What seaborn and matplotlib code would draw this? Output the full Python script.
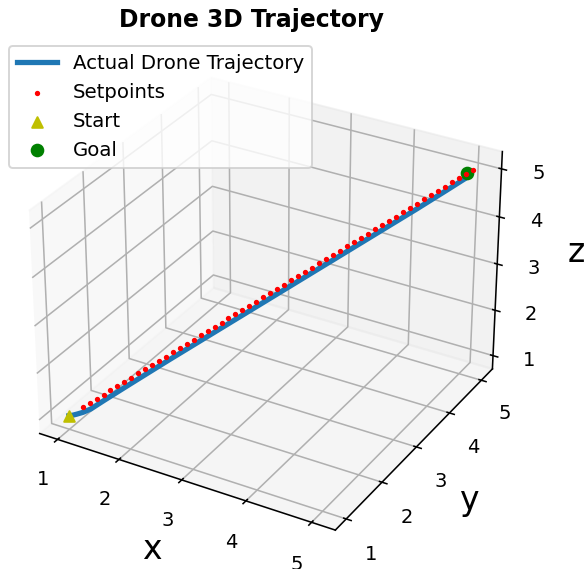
import matplotlib
matplotlib.use("Agg")
import matplotlib.pyplot as plt
import seaborn as sns
import pandas as pd

# Setpoints along the commanded straight path (same value on x, y and z)
setpoint_path = [1.14, 1.21, 1.28, 1.35, 1.42, 1.49, 1.56, 1.63,
                 1.70, 1.77, 1.84, 1.91, 1.98, 2.05, 2.12, 2.19, 2.26, 2.33,
                 2.40, 2.47, 2.54, 2.61, 2.68, 2.75, 2.82, 2.89, 2.96, 3.03,
                 3.10, 3.17, 3.24, 3.31, 3.38, 3.45, 3.52, 3.59, 3.66, 3.73,
                 3.80, 3.87, 3.94, 4.01, 4.08, 4.15, 4.22, 4.29, 4.36, 4.43,
                 4.50, 4.57, 4.64, 4.71, 4.78, 4.85, 4.92, 4.99, 5.06]

# Flown trajectory (lags slightly below the setpoints in altitude)
traj_x = [1.00, 1.04, 1.08, 1.14, 1.22, 1.35, 1.60, 2.00, 2.50, 3.00, 3.50, 4.00, 4.50, 4.80, 5.00]
traj_y = [1.00, 1.04, 1.08, 1.14, 1.22, 1.35, 1.60, 2.00, 2.50, 3.00, 3.50, 4.00, 4.50, 4.80, 5.00]
traj_z = [1.00, 1.00, 1.01, 1.03, 1.08, 1.22, 1.48, 1.89, 2.39, 2.89, 3.39, 3.89, 4.39, 4.70, 4.91]

start_point = [1.0, 1.0, 1.0]
goal_point = [5.0, 5.0, 5.0]

tick_values = [1, 2, 3, 4, 5]

traj = pd.DataFrame({"x": traj_x, "y": traj_y, "z": traj_z})
setpoints = pd.DataFrame({"x": setpoint_path, "y": setpoint_path, "z": setpoint_path})
palette = sns.color_palette("tab10")

DPI = 140
fig = plt.figure(figsize=(586 / DPI, 569 / DPI), dpi=DPI)
ax = fig.add_subplot(projection="3d")
ax.set_position([-0.0285, 0.01, 0.955, 0.925])
ax.computed_zorder = False

ax.plot(traj["x"], traj["y"], traj["z"], color=palette[0], linewidth=2.7,
        label="Actual Drone Trajectory", zorder=2)
ax.scatter(setpoints["x"], setpoints["y"], setpoints["z"], color="r", marker=".",
           s=12, label="Setpoints", zorder=4, depthshade=False)
ax.scatter(*start_point, color="y", marker="^", s=30, label="Start", zorder=5,
           depthshade=False)
ax.scatter(*goal_point, color="g", marker="o", s=36, label="Goal", zorder=3,
           depthshade=False)

ax.set_xticks(tick_values)
ax.set_yticks(tick_values)
ax.set_zticks(tick_values)
ax.tick_params(labelsize=10)
ax.set_xlabel("x", fontsize=17)
ax.set_ylabel("y", fontsize=17)
ax.set_zlabel("z", fontsize=17)

ax.legend(loc="upper left", bbox_to_anchor=(9.3 / 586, 1 - 46 / 569),
          borderaxespad=0, fontsize=10.2, bbox_transform=fig.transFigure)
fig.text(251.5 / 586, 1 - 19.5 / 569, "Drone 3D Trajectory", ha="center",
         va="center", fontsize=12.1, fontweight="bold")

fig.savefig("out.png", dpi=DPI)
